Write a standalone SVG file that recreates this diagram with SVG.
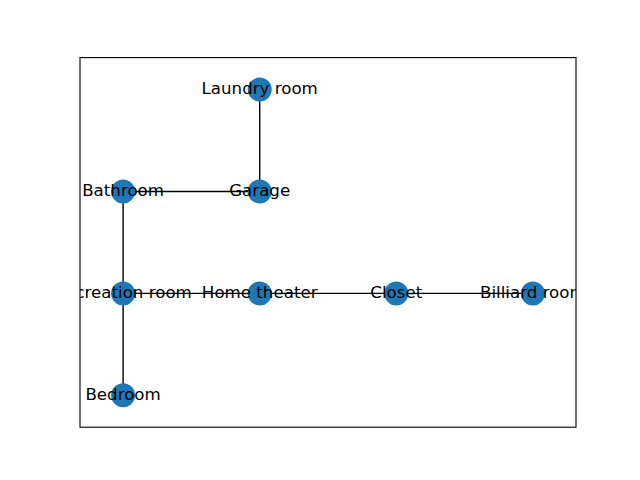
<svg xmlns="http://www.w3.org/2000/svg" width="640" height="480" viewBox="0 0 640 480">
<style>
.edge{stroke:#000;stroke-width:1.39;fill:none}
.node circle{fill:#1f77b4}
.node text{font-family:"DejaVu Sans",sans-serif;font-size:16.67px;fill:#000;text-anchor:middle}
</style>
<defs>
<clipPath id="ax"><rect x="80" y="57.6" width="496" height="369.6"/></clipPath>
</defs>
<rect width="640" height="480" fill="#fff"/>
<g id="connectors">
<line class="edge" x1="259.7" y1="89.6" x2="259.7" y2="191.5"/>
<line class="edge" x1="123.1" y1="191.5" x2="259.7" y2="191.5"/>
<line class="edge" x1="123.1" y1="191.5" x2="123.1" y2="293.4"/>
<line class="edge" x1="123.1" y1="293.4" x2="532.9" y2="293.4"/>
<line class="edge" x1="123.1" y1="293.4" x2="123.1" y2="395.3"/>
</g>
<g id="laundry-room" class="node"><circle cx="259.7" cy="89.6" r="12"/><text x="259.7" y="94" clip-path="url(#ax)">Laundry room</text></g>
<g id="bathroom" class="node"><circle cx="123.1" cy="191.5" r="12"/><text x="123.1" y="195.9" clip-path="url(#ax)">Bathroom</text></g>
<g id="garage" class="node"><circle cx="259.7" cy="191.5" r="12"/><text x="259.7" y="195.9" clip-path="url(#ax)">Garage</text></g>
<g id="recreation-room" class="node"><circle cx="123.1" cy="293.4" r="12"/><text x="123.1" y="297.8" clip-path="url(#ax)">Recreation room</text></g>
<g id="home-theater" class="node"><circle cx="259.7" cy="293.4" r="12"/><text x="259.7" y="297.8" clip-path="url(#ax)">Home theater</text></g>
<g id="closet" class="node"><circle cx="396.3" cy="293.4" r="12"/><text x="396.3" y="297.8" clip-path="url(#ax)">Closet</text></g>
<g id="billiard-room" class="node"><circle cx="532.9" cy="293.4" r="12"/><text x="532.9" y="297.8" clip-path="url(#ax)">Billiard room</text></g>
<g id="bedroom" class="node"><circle cx="123.1" cy="395.3" r="12"/><text x="123.1" y="399.7" clip-path="url(#ax)">Bedroom</text></g>
<rect x="80" y="57.6" width="496" height="369.6" fill="none" stroke="#000" stroke-width="1.11"/>
</svg>
